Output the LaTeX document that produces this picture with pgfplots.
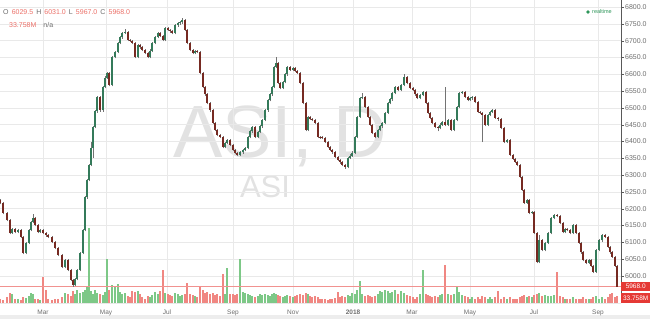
\documentclass[border=0pt]{standalone}
\usepackage{fontspec}
\setmainfont{Liberation Sans}
\usepackage{pgfplots}
\pgfplotsset{compat=1.18}
\usepackage{pgfplotstable}
\definecolor{upc}{RGB}{52,122,90}
\definecolor{dnc}{RGB}{118,42,34}
\definecolor{volg}{RGB}{125,200,135}
\definecolor{volr}{RGB}{240,135,130}
\definecolor{gridc}{RGB}{233,233,233}
\definecolor{lblc}{RGB}{110,110,110}
\definecolor{pxred}{RGB}{229,57,53}
\definecolor{wm}{RGB}{226,226,226}
\definecolor{ohlc}{RGB}{236,112,104}
\definecolor{rtg}{RGB}{46,150,90}

\pgfplotstableread{
t o h l c v
0 6225 6229 6213 6217 20
3 6217 6220 6183 6187 15
7 6187 6190 6162 6166 25
10 6166 6169 6123 6127 45
12 6127 6142 6124 6138 40
15 6138 6141 6126 6130 18
18 6130 6140 6126 6136 20
21 6136 6139 6112 6116 15
23 6116 6119 6064 6068 25
26 6068 6102 6064 6098 22
29 6098 6140 6094 6136 30
31 6136 6164 6132 6160 45
33 6160 6185 6156 6172 40
35 6172 6175 6147 6151 20
38 6151 6154 6126 6130 18
40 6130 6140 6126 6136 15
43 6136 6139 6123 6127 115
46 6127 6130 6116 6120 58
48 6120 6123 6112 6116 20
52 6116 6119 6097 6101 15
55 6101 6104 6079 6083 18
58 6083 6086 6058 6062 20
62 6062 6065 6022 6026 25
65 6026 6051 6022 6047 45
68 6047 6050 6013 6017 40
71 6017 6020 5984 5988 30
73 5988 5991 5967 5973 55
75 5973 5994 5969 5990 40
77 5990 6021 5986 6017 60
80 6017 6072 6013 6068 45
83 6068 6140 6064 6136 50
85 6136 6238 6132 6234 60
87 6234 6289 6230 6285 70
89 6285 6334 6281 6330 338
91 6330 6398 6326 6380 55
93 6380 6447 6351 6443 40
95 6443 6494 6439 6490 60
97 6490 6536 6486 6532 45
100 6532 6535 6489 6493 40
103 6493 6566 6489 6562 35
105 6562 6594 6558 6590 50
107 6590 6608 6586 6604 200
109 6604 6607 6564 6568 60
112 6568 6655 6564 6651 80
115 6651 6670 6647 6666 70
118 6666 6697 6662 6693 85
120 6693 6714 6689 6710 50
122 6710 6727 6706 6723 40
125 6723 6736 6719 6726 45
128 6726 6729 6698 6702 30
130 6702 6705 6696 6700 25
132 6700 6703 6689 6693 55
135 6693 6696 6647 6651 50
138 6651 6691 6647 6687 55
140 6687 6690 6676 6680 40
142 6680 6683 6668 6672 25
145 6672 6675 6659 6663 20
148 6663 6666 6647 6651 30
150 6651 6674 6647 6670 25
152 6670 6697 6666 6693 35
155 6693 6715 6689 6711 50
158 6711 6727 6707 6723 40
160 6723 6726 6711 6715 55
163 6715 6718 6698 6702 150
165 6702 6742 6698 6738 45
168 6738 6741 6728 6732 40
170 6732 6735 6724 6728 35
172 6728 6731 6719 6723 30
175 6723 6750 6719 6746 45
178 6746 6756 6742 6752 40
180 6752 6759 6748 6755 30
182 6755 6768 6751 6761 35
185 6761 6764 6728 6732 40
187 6732 6735 6689 6693 90
190 6693 6696 6668 6672 40
193 6672 6675 6659 6663 35
195 6663 6672 6659 6668 30
197 6668 6671 6662 6666 25
200 6666 6669 6600 6604 70
203 6604 6607 6558 6562 60
205 6562 6565 6536 6540 45
207 6540 6543 6510 6514 50
210 6514 6517 6489 6493 40
213 6493 6496 6451 6455 45
215 6455 6458 6431 6435 35
217 6435 6438 6415 6419 40
220 6419 6422 6409 6413 30
223 6413 6416 6379 6383 130
225 6383 6399 6379 6395 40
227 6395 6408 6391 6404 158
230 6404 6407 6385 6389 40
233 6389 6392 6370 6374 40
235 6374 6377 6362 6366 35
237 6366 6369 6356 6360 40
240 6360 6372 6356 6368 200
243 6368 6378 6364 6374 50
245 6374 6384 6370 6380 45
248 6380 6417 6376 6413 40
250 6413 6434 6409 6430 35
252 6430 6447 6426 6443 30
255 6443 6446 6409 6413 25
258 6413 6432 6409 6428 30
260 6428 6449 6424 6445 40
262 6445 6468 6441 6464 35
265 6464 6497 6460 6493 40
268 6493 6527 6489 6523 35
270 6523 6544 6519 6540 30
272 6540 6566 6536 6562 40
274 6562 6626 6558 6622 45
276 6622 6650 6618 6634 40
278 6634 6637 6570 6574 35
280 6574 6577 6555 6559 30
283 6559 6581 6555 6577 25
285 6577 6604 6573 6600 30
287 6600 6626 6596 6622 35
290 6622 6625 6609 6613 30
293 6613 6623 6609 6619 25
295 6619 6622 6606 6610 30
297 6610 6613 6600 6604 35
300 6604 6607 6570 6574 40
303 6574 6577 6510 6514 35
306 6514 6517 6430 6434 45
308 6434 6477 6430 6473 40
310 6473 6476 6464 6468 30
312 6468 6471 6460 6464 25
315 6464 6467 6451 6455 30
318 6455 6458 6409 6413 25
320 6413 6416 6408 6412 20
322 6412 6415 6406 6410 18
325 6410 6413 6394 6398 20
328 6398 6401 6379 6383 15
330 6383 6386 6371 6375 18
332 6375 6378 6364 6368 20
335 6368 6371 6350 6354 22
338 6354 6357 6341 6345 50
340 6345 6348 6334 6338 25
342 6338 6341 6326 6330 30
345 6330 6333 6318 6324 25
348 6324 6355 6320 6351 35
350 6351 6362 6347 6358 30
352 6358 6370 6354 6366 45
355 6366 6417 6362 6413 40
357 6413 6477 6409 6473 60
360 6473 6533 6469 6529 100
362 6529 6545 6525 6532 40
365 6532 6535 6498 6502 30
368 6502 6505 6469 6473 35
370 6473 6476 6446 6450 30
372 6450 6453 6421 6425 25
375 6425 6428 6409 6413 30
378 6413 6438 6409 6434 40
380 6434 6449 6430 6445 55
382 6445 6459 6441 6455 50
385 6455 6489 6451 6485 60
388 6485 6518 6481 6514 55
390 6514 6529 6510 6525 45
392 6525 6548 6521 6544 50
395 6544 6566 6540 6562 60
398 6562 6565 6549 6553 40
401 6553 6572 6549 6568 55
404 6568 6600 6564 6592 45
407 6592 6595 6570 6574 35
410 6574 6577 6555 6559 30
413 6559 6562 6549 6553 25
415 6553 6556 6536 6540 20
417 6540 6543 6525 6529 25
420 6529 6542 6525 6538 40
423 6538 6551 6534 6547 150
426 6547 6550 6510 6514 40
428 6514 6517 6481 6485 35
430 6485 6488 6466 6470 30
432 6470 6473 6451 6455 25
435 6455 6458 6439 6443 30
438 6443 6446 6430 6440 25
440 6440 6454 6436 6450 35
442 6450 6462 6446 6458 40
445 6458 6562 6445 6449 170
448 6449 6468 6445 6464 40
451 6464 6467 6430 6434 35
454 6434 6468 6430 6464 40
457 6464 6506 6460 6502 70
459 6502 6548 6498 6544 50
462 6544 6551 6540 6547 35
465 6547 6550 6528 6532 30
468 6532 6535 6519 6523 25
470 6523 6532 6519 6528 20
472 6528 6536 6524 6532 25
475 6532 6535 6513 6517 20
478 6517 6520 6484 6488 25
480 6488 6491 6481 6485 20
482 6485 6488 6398 6479 30
485 6479 6482 6445 6449 25
488 6449 6483 6445 6479 20
490 6479 6492 6475 6488 25
492 6488 6497 6484 6493 20
495 6493 6496 6466 6470 25
498 6470 6474 6462 6466 55
501 6466 6469 6436 6440 20
504 6440 6443 6394 6398 25
507 6398 6408 6394 6404 20
510 6404 6407 6356 6360 25
513 6360 6363 6344 6348 20
515 6348 6351 6336 6340 18
517 6340 6343 6326 6330 20
520 6330 6333 6290 6294 25
522 6294 6297 6252 6256 30
524 6256 6259 6213 6217 35
527 6217 6230 6213 6226 25
529 6226 6229 6183 6187 30
532 6187 6194 6183 6190 25
534 6190 6193 6123 6127 35
537 6127 6130 6037 6041 40
539 6041 6120 6037 6106 45
542 6106 6109 6073 6077 30
545 6077 6102 6073 6098 35
548 6098 6131 6094 6127 30
551 6127 6176 6123 6172 30
554 6172 6185 6168 6181 35
557 6181 6184 6174 6178 140
560 6178 6181 6153 6157 30
563 6157 6160 6126 6130 25
565 6130 6142 6126 6138 20
567 6138 6141 6132 6136 18
570 6136 6139 6123 6127 20
573 6127 6155 6123 6151 25
576 6151 6154 6123 6127 20
579 6127 6130 6094 6098 18
581 6098 6101 6066 6070 20
583 6070 6073 6043 6047 25
586 6047 6050 6034 6038 20
589 6038 6051 6034 6047 18
591 6047 6050 6026 6030 20
593 6030 6033 6008 6012 25
596 6012 6081 6008 6077 30
599 6077 6110 6073 6106 20
602 6106 6125 6102 6121 25
605 6121 6124 6112 6116 20
608 6116 6119 6082 6086 25
610 6086 6089 6066 6070 40
612 6070 6073 6052 6056 45
615 6056 6059 6026 6030 25
617 6029.5 6031 5967 5968 33.758
}\asi

\pgfplotsset{
  chartbox/.style={at={(0pt,16pt)}, anchor=south west, scale only axis,
    width=621pt, height=303pt, xmin=0, xmax=621},
}

\begin{document}
\begin{tikzpicture}[x=1pt,y=1pt]
\useasboundingbox (0pt,0pt) rectangle (650pt,319pt);
\fill[white] (0pt,0pt) rectangle (650pt,319pt);
\fill[black!7] (0pt,0pt) rectangle (650pt,4pt);
% watermark
\node[text=wm, font=\fontsize{74}{74}\selectfont, anchor=base, inner sep=0pt] at (280pt,161pt) {ASI, D};
\node[text=wm, font=\fontsize{31}{31}\selectfont, anchor=base, inner sep=0pt] at (265pt,122pt) {ASI};

% price axis with grid and ticks
\begin{axis}[chartbox, ymin=5919, ymax=6821,
  axis x line*=bottom, axis y line*=right,
  x axis line style={gridc},
  y axis line style={black!65},
  xmajorgrids, ymajorgrids, grid style={gridc, line width=0.5pt},
  xtick={43,106,167,233,293,353,412,470,534,598},
  xticklabels={Mar,May,Jul,Sep,Nov,\textbf{2018},Mar,May,Jul,Sep},
  x tick style={draw=none},
  xticklabel style={font=\fontsize{6.5}{7}\selectfont, text=lblc, yshift=-0.5pt},
  ytick={6000,6050,...,6800},
  y tick style={black!65},
  major tick length=3pt, tick align=outside,
  yticklabel style={font=\fontsize{7}{8}\selectfont, text=lblc, inner sep=0pt, xshift=1pt},
  /pgf/number format/.cd, fixed, fixed zerofill, precision=1, 1000 sep={}, assume math mode=true,
]
\end{axis}

% volume axis
\begin{axis}[chartbox, ymin=0, ymax=1364, hide axis]
\addplot[ycomb, volg, line width=1.3pt, forget plot]
  table[x=t, y expr={\thisrow{c}>=\thisrow{o} ? \thisrow{v} : nan}] \asi;
\addplot[ycomb, volr, line width=1.3pt, forget plot]
  table[x=t, y expr={\thisrow{c}<\thisrow{o} ? \thisrow{v} : nan}] \asi;
\end{axis}

% candle axis
\begin{axis}[chartbox, ymin=5919, ymax=6821, hide axis, clip=false]
\addplot[pxred!55, line width=0.5pt, forget plot] coordinates {(0,5968) (621,5968)};
\addplot[draw=none, forget plot, error bars/.cd, y dir=plus, y explicit, error mark=none,
  error bar style={line width=0.5pt, draw=black!55}]
  table[x=t, y=l, y error plus expr=\thisrow{h}-\thisrow{l}] \asi;
\addplot[draw=none, forget plot, error bars/.cd, y dir=plus, y explicit, error mark=none,
  error bar style={line width=1.6pt, draw=upc}]
  table[x=t, y expr={\thisrow{c}>=\thisrow{o} ? \thisrow{o} : nan}, y error plus expr=\thisrow{c}-\thisrow{o}] \asi;
\addplot[draw=none, forget plot, error bars/.cd, y dir=plus, y explicit, error mark=none,
  error bar style={line width=1.6pt, draw=dnc}]
  table[x=t, y expr={\thisrow{c}<\thisrow{o} ? \thisrow{c} : nan}, y error plus expr=\thisrow{o}-\thisrow{c}] \asi;
\node[fill=pxred, text=white, font=\fontsize{6.5}{7}\selectfont, anchor=west, inner sep=0pt,
  minimum height=9.5pt, minimum width=29pt] at (axis cs:621,5968) {5968.0};
\node[fill=pxred, text=white, font=\fontsize{6.5}{7}\selectfont, anchor=south west, inner sep=0pt,
  minimum height=9.5pt, minimum width=29pt] at (rel axis cs:1,0) {33.758M};
\end{axis}

% header texts
\node[anchor=west, inner sep=0pt, font=\fontsize{7}{8}\selectfont] at (3pt,307pt)
  {\textcolor{lblc}{O}\, \textcolor{ohlc}{6029.5}\, \textcolor{lblc}{H}\, \textcolor{ohlc}{6031.0}\, \textcolor{lblc}{L}\, \textcolor{ohlc}{5967.0}\, \textcolor{lblc}{C}\, \textcolor{ohlc}{5968.0}};
\node[anchor=west, inner sep=0pt, font=\fontsize{7}{8}\selectfont] at (9pt,294pt)
  {\textcolor{ohlc}{33.758M}\quad\textcolor{lblc}{n/a}};
\fill[rtg] (588pt,307pt) circle (1.8pt);
\node[anchor=west, inner sep=0pt, font=\fontsize{5.5}{6}\selectfont, text=rtg] at (592pt,307pt) {realtime};
\end{tikzpicture}
\end{document}
